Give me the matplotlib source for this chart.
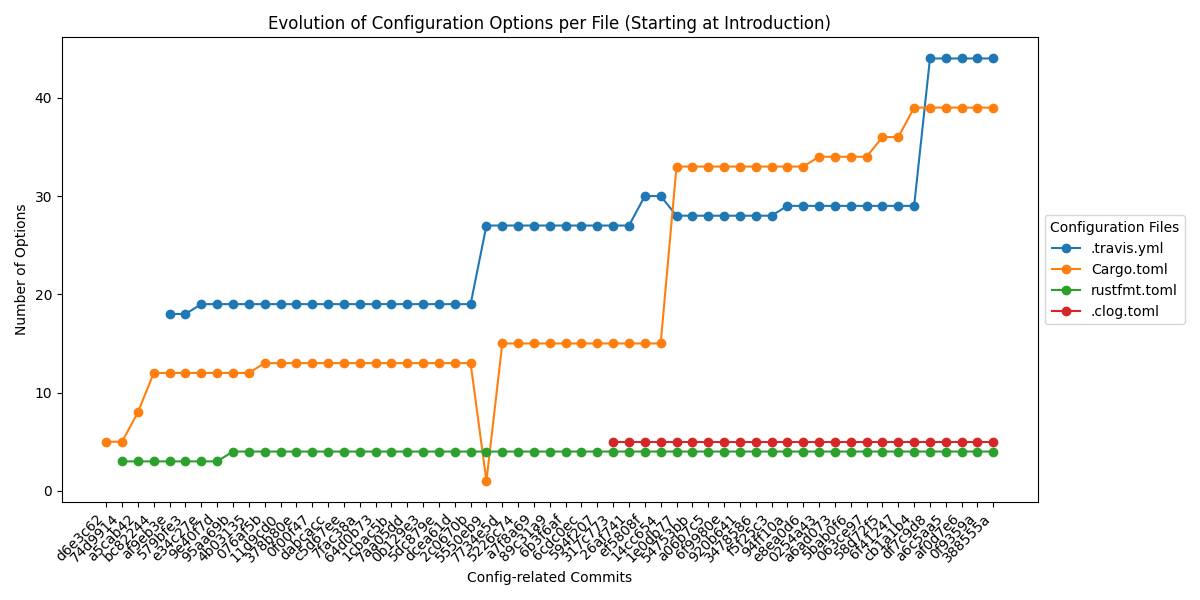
import numpy as np
import matplotlib
matplotlib.use("Agg")
import matplotlib.pyplot as plt

commits = ["d6e3c62", "74d9914", "a5cab42", "bc82244", "af9eb3e", "579bfe3", "e34c27e",
           "9e40f7d", "95aa69b", "4b03135", "076af5b", "11d9cd0", "378b80e", "0f00f47",
           "dabcacc", "c5d67ee", "7fac38a", "64d0b73", "1cbac5b", "7aa05dd", "0b129e3",
           "5dc879e", "dcea61d", "2c0670b", "5550eb9", "7734e5d", "5226c74", "a7f8a69",
           "89c31a9", "6b3f6af", "6cdc0ec", "594f207", "317c773", "26af741", "ef5808f",
           "14cc654", "1e0db77", "54753bb", "a06b7c5", "6f9980e", "920b641", "3478586",
           "f5f25c3", "94ff10a", "e8ea0d6", "0254a43", "a6ad073", "5bab0f6", "063ce97",
           "58d72f5", "6f41247", "cb1a1b4", "df7c9d8", "a6c5aa5", "af0d7e6", "0f9359a",
           "388555a"]

N = None
travis = [N, N, N, N, 18, 18, 19, 19, 19, 19, 19, 19, 19, 19, 19, 19, 19, 19, 19, 19,
          19, 19, 19, 19, 27, 27, 27, 27, 27, 27, 27, 27, 27, 27, 30, 30, 28, 28, 28, 28,
          28, 28, 28, 29, 29, 29, 29, 29, 29, 29, 29, 29, 44, 44, 44, 44, 44]
cargo = [5, 5, 8, 12, 12, 12, 12, 12, 12, 12, 13, 13, 13, 13, 13, 13, 13, 13, 13, 13,
         13, 13, 13, 13, 1, 15, 15, 15, 15, 15, 15, 15, 15, 15, 15, 15, 33, 33, 33, 33,
         33, 33, 33, 33, 33, 34, 34, 34, 34, 36, 36, 39, 39, 39, 39, 39, 39]
rustfmt = [N, 3, 3, 3, 3, 3, 3, 3, 4, 4, 4, 4, 4, 4, 4, 4, 4, 4, 4, 4,
           4, 4, 4, 4, 4, 4, 4, 4, 4, 4, 4, 4, 4, 4, 4, 4, 4, 4, 4, 4,
           4, 4, 4, 4, 4, 4, 4, 4, 4, 4, 4, 4, 4, 4, 4, 4, 4]
clog = [N] * 32 + [5] * 25

series = [(".travis.yml", travis), ("Cargo.toml", cargo),
          ("rustfmt.toml", rustfmt), (".clog.toml", clog)]

def arr(v):
    return np.array([np.nan if x is None else x for x in v], dtype=float)

fig, ax = plt.subplots(figsize=(12, 6), dpi=100)
x = np.arange(len(commits))
for name, vals in series:
    ax.plot(x, arr(vals), marker="o", label=name)

ax.set_xticks(x)
ax.set_xticklabels(commits, rotation=45, ha="right")
ax.set_title("Evolution of Configuration Options per File (Starting at Introduction)")
ax.set_xlabel("Config-related Commits")
ax.set_ylabel("Number of Options")
ax.legend(title="Configuration Files", loc="center left", bbox_to_anchor=(1, 0.5))
fig.tight_layout()
fig.savefig("out.png")
